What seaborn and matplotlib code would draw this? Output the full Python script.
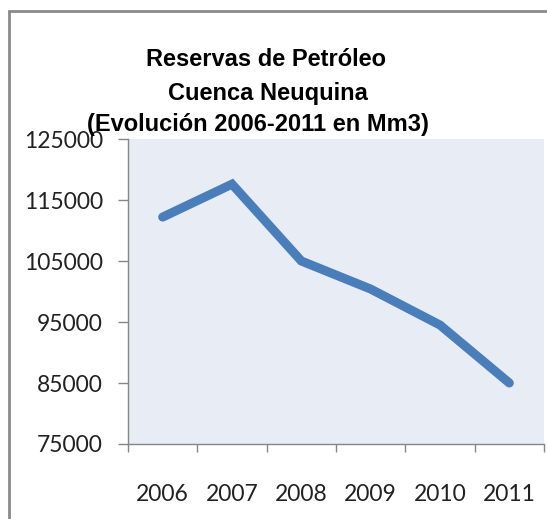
import matplotlib
matplotlib.use("Agg")
import matplotlib.pyplot as plt
import seaborn as sns
import pandas as pd
from matplotlib.patches import Rectangle
from matplotlib.ticker import FixedLocator
from matplotlib import font_manager

years = ["2006", "2007", "2008", "2009", "2010", "2011"]
reserves = [112200, 117600, 105000, 100400, 94500, 85000]
yticks = [75000, 85000, 95000, 105000, 115000, 125000]
title_lines = ["Reservas de Petróleo", "Cuenca Neuquina", "(Evolución 2006-2011 en Mm3)"]

sns.set_style("white")
plt.rcParams["font.family"] = ["Lato", "DejaVu Sans"]

names = {f.name for f in font_manager.fontManager.ttflist}
if "Liberation Sans Narrow" in names:
    title_family, title_size = ["Liberation Sans Narrow", "DejaVu Sans"], 21
else:
    title_family, title_size = ["Liberation Sans", "DejaVu Sans"], 17

df = pd.DataFrame({"year": years, "reserves": reserves})

W, H = 547, 519
fig = plt.figure(figsize=(W / 100, H / 100), dpi=100)
ax = fig.add_axes([128 / W, 1 - 444 / H, (544 - 128) / W, (444 - 139) / H])

sns.lineplot(data=df, x="year", y="reserves", ax=ax, color="#4a7ebb",
             linewidth=6.5, solid_capstyle="round", solid_joinstyle="miter", sort=False)

ax.set_facecolor("#e7ecf5")
ax.set_xlim(-0.5, len(years) - 0.5)
ax.set_ylim(yticks[0], yticks[-1])
ax.set_yticks(yticks)
ax.set_yticklabels([str(v) for v in yticks])
ax.set_xlabel("")
ax.set_ylabel("")

ax.xaxis.set_major_locator(FixedLocator([i - 0.5 for i in range(len(years) + 1)]))
ax.xaxis.set_minor_locator(FixedLocator(list(range(len(years)))))
ax.set_xticklabels([], minor=False)
ax.set_xticklabels(years, minor=True)
ax.tick_params(axis="x", which="major", length=6, width=1, color="#868686", direction="out", bottom=True)
ax.tick_params(axis="x", which="minor", length=0, pad=29, labelsize=16.5, colors="#222222", bottom=True)
ax.tick_params(axis="y", length=7, width=1, color="#868686", direction="out", pad=11, labelsize=16.5,
               labelcolor="#222222", left=True)

for s in ["top", "right"]:
    ax.spines[s].set_visible(False)
for s in ["left", "bottom"]:
    ax.spines[s].set_color("#868686")
    ax.spines[s].set_linewidth(1)

# title lines
centers = [266, 268, 258]
baselines = [66, 100, 131]
for txt, cx, by in zip(title_lines, centers, baselines):
    fig.text(cx / W, 1 - by / H, txt, ha="center", va="baseline", fontsize=title_size,
             fontweight="bold", family=title_family, color="black")

# chart border
fig.patches.append(Rectangle((9 / W, -0.1), 1.2, 1 - 11 / H + 0.1, transform=fig.transFigure,
                             fill=False, edgecolor="#8a8a8a", linewidth=2, zorder=10))

fig.savefig("out.png", dpi=100)
